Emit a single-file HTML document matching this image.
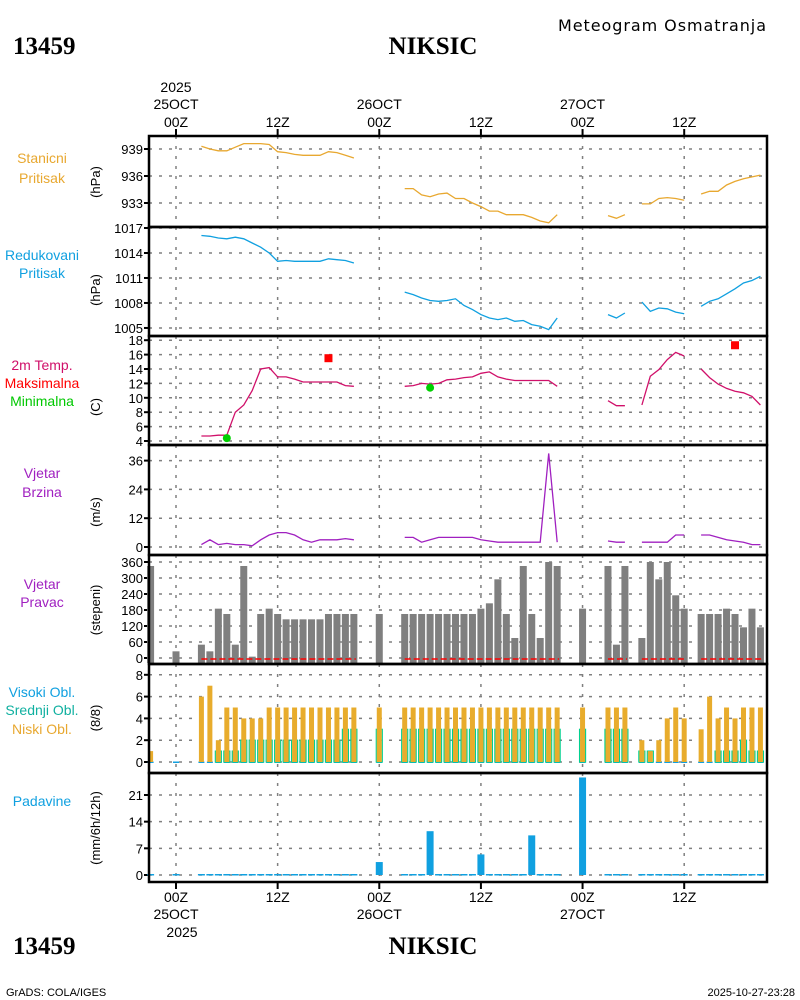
<!DOCTYPE html>
<html><head><meta charset="utf-8"><style>
html,body{margin:0;padding:0;background:#fff;width:800px;height:1000px;overflow:hidden}
svg text{font-family:"Liberation Sans",sans-serif}
</style></head><body>
<svg id="chart" width="800" height="1000" xmlns="http://www.w3.org/2000/svg">
<text x="13" y="54" font-weight="bold" font-size="25" style="font-family:'Liberation Serif',serif">13459</text>
<text x="433" y="54" text-anchor="middle" font-weight="bold" font-size="25" style="font-family:'Liberation Serif',serif">NIKSIC</text>
<text x="766" y="31" text-anchor="end" font-size="16" style="font-family:'DejaVu Sans',sans-serif" textLength="208">Meteogram Osmatranja</text>
<text x="13" y="954" font-weight="bold" font-size="25" style="font-family:'Liberation Serif',serif">13459</text>
<text x="433" y="954" text-anchor="middle" font-weight="bold" font-size="25" style="font-family:'Liberation Serif',serif">NIKSIC</text>
<text x="6" y="996" font-size="11">GrADS: COLA/IGES</text>
<text x="795" y="996" text-anchor="end" font-size="11">2025-10-27-23:28</text>
<g id="g"></g>
</svg>
<script>
const hours=[-3,0,3,4,5,6,7,8,9,10,11,12,13,14,15,16,17,18,19,20,21,24,27,28,29,30,31,32,33,34,35,36,37,38,39,40,41,42,43,44,45,48,51,52,53,55,56,57,58,59,60,62,63,64,65,66,67,68,69];
const N=null;
const presStation=[N,N,939.3,939.0,938.8,938.8,939.2,939.6,939.6,939.6,939.5,938.7,938.6,938.4,938.3,938.3,938.3,938.7,938.6,938.3,938.0,N,934.6,934.6,933.9,933.7,934.0,934.1,933.5,933.5,933.0,932.6,932.1,932.1,931.7,931.7,931.7,931.4,931.0,930.8,931.7,N,931.6,931.3,931.7,932.9,932.9,933.5,933.6,933.5,933.3,934.0,934.3,934.3,935.0,935.4,935.7,935.9,936.1];
const presReduced=[N,N,1016.1,1016.0,1015.8,1015.7,1015.9,1015.7,1015.2,1014.7,1014.0,1013.0,1013.1,1013.0,1013.0,1013.0,1013.0,1013.3,1013.2,1013.1,1012.8,N,1009.3,1009.0,1008.6,1008.3,1008.2,1008.3,1008.5,1007.7,1007.2,1006.6,1006.2,1006.0,1006.2,1005.8,1005.9,1005.4,1005.2,1004.8,1006.2,N,1006.6,1006.2,1006.8,1008.1,1007.0,1007.4,1007.3,1006.9,1006.7,1007.6,1008.2,1008.5,1009.1,1009.7,1010.4,1010.7,1011.2];
const temp=[N,N,4.7,4.7,4.8,4.8,8.0,9.0,11.0,14.0,14.2,12.9,12.9,12.6,12.2,12.2,12.2,12.2,12.2,11.7,11.6,N,11.6,11.7,12.0,11.9,12.0,12.5,12.6,12.8,12.9,13.4,13.6,12.9,12.6,12.4,12.4,12.4,12.4,12.4,11.6,N,9.6,8.9,8.9,9.0,13.0,13.9,15.3,16.3,15.8,14.0,12.8,11.9,11.3,10.9,10.7,10.2,9.0];
const windSpeed=[N,N,1,3,1,1.5,1,1,0.5,3,5,6,6,5,3,2,3,3,3,3.5,3,N,4,4,2,3,4,4,4,4,4,3,2.5,2,2,2,2,2,2,39,2,N,2.5,2,2,2,2,2,2,5,5,5,5,4,3,2.5,2,1,1];
const windDir=[345,25,50,25,185,165,50,345,5,165,185,165,145,145,145,145,145,165,165,165,165,165,165,165,165,165,165,165,165,165,165,185,205,295,165,75,345,165,75,360,345,185,345,50,345,75,360,295,360,235,185,165,165,165,185,165,115,185,115];
const cloudLow=[1,0,6,7,2,5,5,4,4,4,5,5,5,5,5,5,5,5,5,5,5,5,5,5,5,5,5,5,5,5,5,5,5,5,5,5,5,5,5,5,5,5,5,5,5,2,1,2,4,5,4,3,6,4,5,4,5,5,5];
const cloudMid=[0,0,0,0,1,1,1,2,2,2,2,2,2,2,2,2,2,2,2,3,3,3,3,3,3,3,3,3,3,3,3,3,3,3,3,3,3,3,3,3,3,3,3,3,3,1,1,0,0,0,0,0,0,1,1,1,2,1,1];
const cloudHigh=[0,0,0,0,0,0,1,0,0,0,0,0,0,0,0,0,0,0,0,0,0,0,0,0,0,0,0,0,0,0,0,0,0,0,0,0,0,0,0,0,0,0,0,0,0,0,0,0,0,0,0,0,0,1,1,1,0,0,0];
const precip=[0,0,0,0,0,0,0,0,0,0,0,0,0,0,0,0,0,0,0,0,0,3.4,0,0,0,11.5,0,0,0,0,0,5.4,0,0,0,0,0,10.4,0,0,0,25.6,0,0,0,0,0,0,0,0,0,0,0,0,0,0,0,0,0];
const tMaxHours=[18,66], tMaxVals=[15.5,17.3];
const tMinHours=[6,30], tMinVals=[4.4,11.4];
const ticksP1=[933,936,939], ticksP2=[1005,1008,1011,1014,1017], ticksP3=[4,6,8,10,12,14,16,18],
 ticksP4=[0,12,24,36], ticksP5=[0,60,120,180,240,300,360], ticksP6=[0,2,4,6,8], ticksP7=[0,7,14,21];
const timeTickHours=[0,12,24,36,48,60], timeTickLabels=["00Z","12Z","00Z","12Z","00Z","12Z"];
const dayLabelHours=[0,24,48], dayLabels=["25OCT","26OCT","27OCT"];

const NS="http://www.w3.org/2000/svg", G=document.getElementById('g');
const X0=149,X1=767;
const xh=h=>176+h*8.47;
function el(t,a,p){const e=document.createElementNS(NS,t);for(const k in a)e.setAttribute(k,a[k]);(p||G).appendChild(e);return e;}
function txt(x,y,s,a){const e=el('text',Object.assign({x:x,y:y},a||{}));e.textContent=s;return e;}
const panels=[
 {top:136,bot:227,v0:939,y0:149,k:9,ticks:ticksP1,unit:"(hPa)",uy:182,name:"station-pressure"},
 {top:227,bot:336,v0:1017,y0:228,k:8.33,ticks:ticksP2,unit:"(hPa)",uy:290,name:"reduced-pressure"},
 {top:336,bot:445,v0:4,y0:441,k:7.2,ticks:ticksP3,unit:"(C)",uy:407,name:"temperature"},
 {top:445,bot:555,v0:0,y0:547,k:2.4,ticks:ticksP4,unit:"(m/s)",uy:512,name:"wind-speed"},
 {top:555,bot:664,v0:0,y0:658,k:0.2667,ticks:ticksP5,unit:"(stepeni)",uy:610,name:"wind-direction"},
 {top:664,bot:773,v0:0,y0:762,k:10.9,ticks:ticksP6,unit:"(8/8)",uy:718,name:"cloud-cover"},
 {top:773,bot:882,v0:0,y0:875,k:3.81,ticks:ticksP7,unit:"(mm/6h/12h)",uy:828,name:"precipitation"}];
panels.forEach(p=>p.y=v=>p.y0-(v-p.v0)*p.k);
panels.forEach((p,i)=>{
 const g=el('g',{});
 
 
 p.ticks.forEach(t=>{const y=p.y(t);
  el('line',{x1:X0,x2:X1,y1:y,y2:y,stroke:'#808080','stroke-width':1.5,'stroke-dasharray':'3,7'},g);
  el('line',{x1:X0-5,x2:X0,y1:y,y2:y,stroke:'#000','stroke-width':2},g);
  const t2=txt(X0-6,y+5,String(t),{'text-anchor':'end','font-size':13});
  
  
 });
 timeTickHours.forEach(h=>el('line',{x1:xh(h),x2:xh(h),y1:p.top,y2:p.bot,stroke:'#808080','stroke-width':1.5,'stroke-dasharray':'3,7'},g));
 const u=txt(100,p.uy,p.unit,{'text-anchor':'middle','font-size':13,transform:`rotate(-90 100 ${p.uy})`});
 
 
});
const labs=[["Stanicni",163,"#e8a830"],["Pritisak",183,"#e8a830"],["Redukovani",260,"#10a0e0"],["Pritisak",278,"#10a0e0"],
["2m Temp.",370,"#d0106a"],["Maksimalna",388,"#ff0000"],["Minimalna",406,"#00c800"],["Vjetar",478,"#a020c0"],["Brzina",497,"#a020c0"],
["Vjetar",589,"#a020c0"],["Pravac",607,"#a020c0"],["Visoki Obl.",697,"#10a0e0"],["Srednji Obl.",715,"#10b0a0"],["Niski Obl.",734,"#e8a830"],["Padavine",806,"#10a0e0"]];
labs.forEach(l=>{const t=txt(42,l[1],l[0],{'text-anchor':'middle','font-size':14,fill:l[2]});
 
 });
function line(p,vals,color,name){
 let seg=[],prev=null;const out=[];
 hours.forEach((h,i)=>{const v=vals[i];
  if(v==null||(prev!=null&&h-prev>1)){if(seg.length>1)out.push(seg);seg=[];}
  if(v!=null){seg.push(xh(h).toFixed(1)+','+p.y(v).toFixed(1));prev=h;} else prev=null;});
 if(seg.length>1)out.push(seg);
 out.forEach(s=>{const e=el('polyline',{points:s.join(' '),fill:'none',stroke:color,'stroke-width':1.3});
  
  });
}
line(panels[0],presStation,'#e8a830','station-pressure-line');
line(panels[1],presReduced,'#10a0e0','reduced-pressure-line');
line(panels[2],temp,'#d0106a','temperature-line');
line(panels[3],windSpeed,'#a020c0','wind-speed-line');
tMaxHours.forEach((h,i)=>{const e=el('rect',{x:xh(h)-4,y:panels[2].y(tMaxVals[i])-4,width:8,height:8,fill:'#ff0000'});
 
 });
tMinHours.forEach((h,i)=>{const e=el('circle',{cx:xh(h),cy:panels[2].y(tMinVals[i]),r:4,fill:'#00d000'});
 
 });
const pd=panels[4];
hours.forEach((h,i)=>{const y=pd.y(windDir[i]);
 const e=el('rect',{x:xh(h)-3.5,y:y,width:7,height:Math.max(1,pd.y(0)-y+5),fill:'#7f7f7f'});
 
 });
[[3,21],[27,45],[51,53],[55,60],[62,69]].forEach(r=>{const e=el('line',{x1:xh(r[0]),x2:xh(r[1])+2,y1:659,y2:659,stroke:'#ff0000','stroke-width':1.5,'stroke-dasharray':'6,3'});
 
 });
const pc=panels[5];
hours.forEach((h,i)=>{const x=xh(h),y0=pc.y(0);
 el('rect',{x:x-3,y:y0-0.5,width:6,height:1.5,fill:'#10a0e0'});
 if(cloudHigh[i]>0){const e=el('rect',{x:x-3,y:pc.y(cloudHigh[i]),width:6,height:y0-pc.y(cloudHigh[i]),fill:'#10a0e0'});
  
  }
 if(cloudMid[i]>0){const e=el('rect',{x:x-3,y:pc.y(cloudMid[i]),width:6,height:y0-pc.y(cloudMid[i]),fill:'none',stroke:'#00d090','stroke-width':1.2});
  
  }
 if(cloudLow[i]>0){const e=el('rect',{x:x-2.5,y:pc.y(cloudLow[i]),width:5,height:y0-pc.y(cloudLow[i]),fill:'#e8ac2c'});
  
  }
});
const pp=panels[6];
hours.forEach((h,i)=>{const x=xh(h),y0=pp.y(0);
 if(precip[i]>0){const e=el('rect',{x:x-3.5,y:pp.y(precip[i]),width:7,height:y0-pp.y(precip[i]),fill:'#10a0e0'});
  
  }
 else el('rect',{x:x-3.5,y:y0-1,width:7,height:1.5,fill:'#10a0e0'});
});
panels.forEach(p=>el('rect',{x:X0,y:p.top,width:X1-X0,height:p.bot-p.top,fill:'none',stroke:'#000','stroke-width':2.5}));
timeTickHours.forEach((h,i)=>{const x=xh(h);
 el('line',{x1:x,x2:x,y1:129,y2:136,stroke:'#000','stroke-width':2});
 el('line',{x1:x,x2:x,y1:882,y2:889,stroke:'#000','stroke-width':2});
 const a=txt(x,127,timeTickLabels[i],{'text-anchor':'middle','font-size':14});
 
 
 const b=txt(x,902,timeTickLabels[i],{'text-anchor':'middle','font-size':14});
 
 });
dayLabelHours.forEach((h,i)=>{const x=xh(h);
 const a=txt(x,109,dayLabels[i],{'text-anchor':'middle','font-size':14});
 
 
 const b=txt(x,919,dayLabels[i],{'text-anchor':'middle','font-size':14});
 
 });
txt(xh(0),92,"2025",{'text-anchor':'middle','font-size':14});
txt(xh(0)+6,937,"2025",{'text-anchor':'middle','font-size':14});
</script>
</body></html>
